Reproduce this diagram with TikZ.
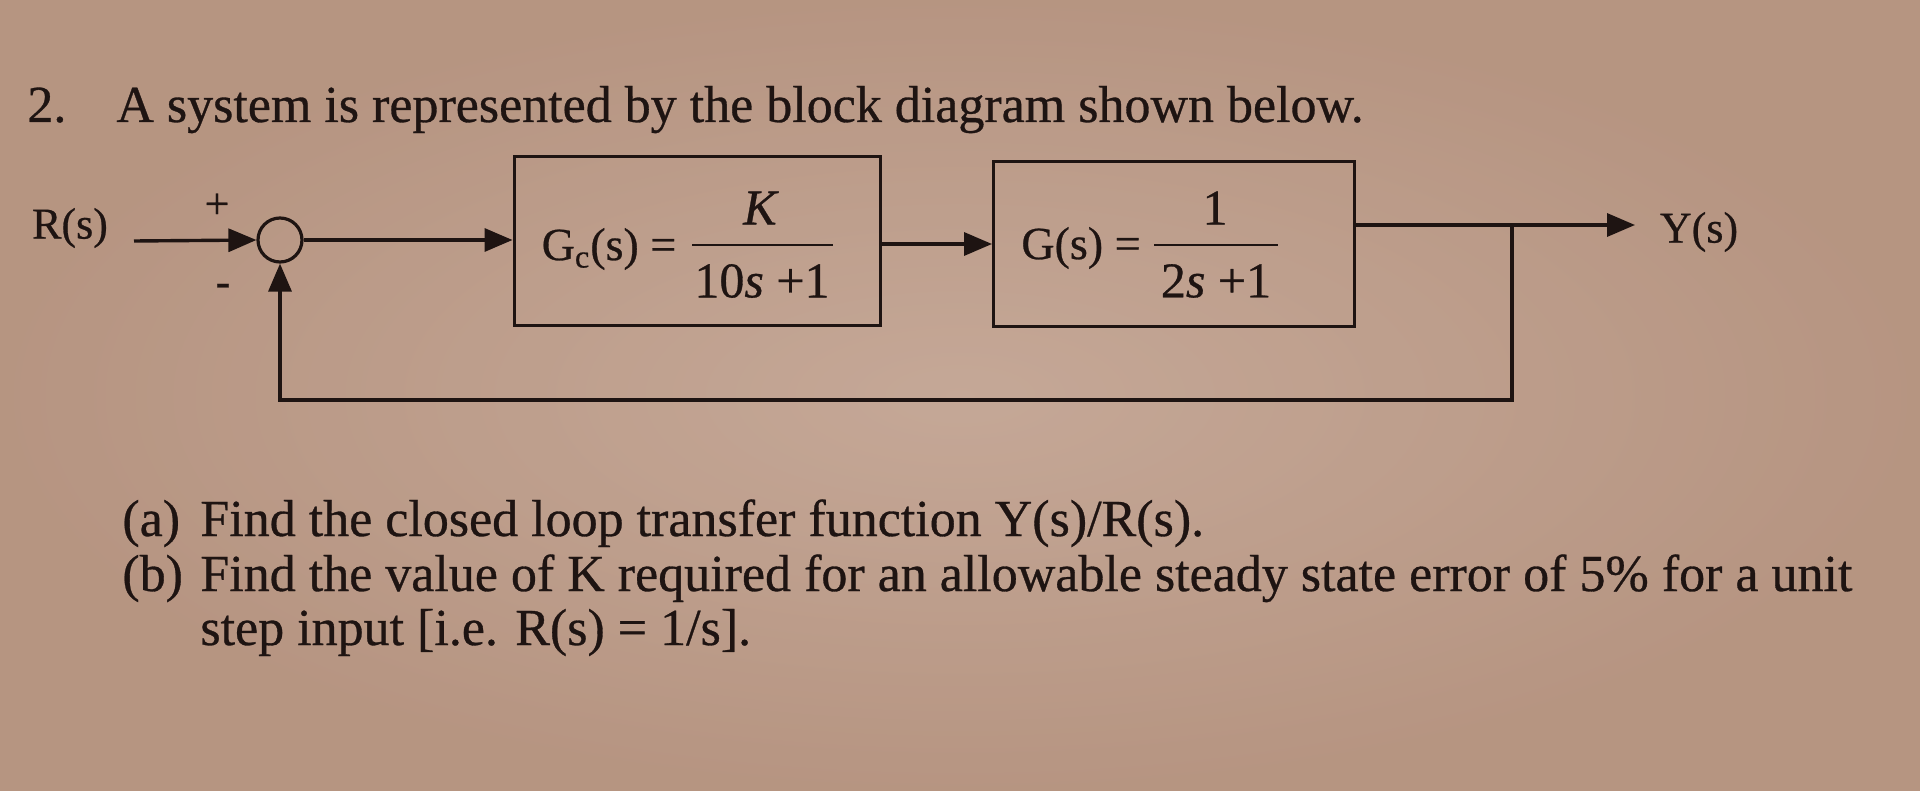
\documentclass[tikz,border=0pt]{standalone}
\usepackage{fontspec}
\setmainfont{Liberation Serif}[FakeBold=0.6]
\usetikzlibrary{arrows.meta}
\definecolor{bgpaper}{RGB}{192,161,143}
\definecolor{bglight}{RGB}{201,173,157}
\definecolor{bgdark}{RGB}{176,141,121}
\definecolor{ink}{RGB}{30,20,18}
\tikzset{
  txt/.style={font=\fontsize{26}{30}\selectfont, text=ink, inner sep=0pt},
  dtxt/.style={font=\fontsize{22}{26}\selectfont, text=ink, inner sep=0pt},
  ftxt/.style={font=\fontsize{23}{27}\selectfont, text=ink, inner sep=0pt},
  fnum/.style={font=\fontsize{25}{29}\selectfont, text=ink, inner sep=0pt},
  wire/.style={draw=ink, line width=1.7pt},
  arr/.style={-{Triangle[length=14pt,width=11.5pt]}},
  blk/.style={draw=ink, line width=1.5pt, minimum width=183pt, minimum height=84pt, inner sep=0pt},
  blkb/.style={draw=ink, line width=1.5pt, minimum width=180.5pt, minimum height=82pt, inner sep=0pt},
  sumc/.style={draw=ink, circle, line width=1.6pt, minimum size=22pt, inner sep=0pt},
  fbar/.style={draw=ink, line width=1.1pt}
}
\begin{document}
\begin{tikzpicture}[x=0.5pt,y=-0.5pt]
\useasboundingbox (0,0) rectangle (1920,791);
\fill[bgpaper] (0,0) rectangle (1920,791);
\shade[inner color=bglight, outer color=bgdark, opacity=0.6] (0,0) rectangle (1920,791);

% title
\node[txt, anchor=base west] (num) at (27,122) {2.};
\node[txt, anchor=base west] (title) at (116,122) {A system is represented by the block diagram shown below.};

% diagram
\node[dtxt] (R) at (70,228) {R(s)};
\coordinate (in) at (134,241);
\node[sumc] (sum) at (280,240) {};
\node[dtxt] (plus) at (217,206) {+};
\node[dtxt] (minus) at (223,290) {-};

\node[blk] (b1) at (697,241) {};
\node[blkb] (b2) at (1174,244) {};

\node[ftxt] (gcl) at (609,249) {G\textsubscript{c}(s) =};
\coordinate (bar1l) at (692,245);
\coordinate (bar1r) at (833,245);
\draw[fbar] (bar1l) -- (bar1r);
\node[fnum] (k) at (761,208) {\textit{K}};
\node[fnum] (d1) at (762,281) {10\textit{s} +1};

\node[ftxt] (gl) at (1081,248) {G(s) =};
\coordinate (bar2l) at (1154,245);
\coordinate (bar2r) at (1278,245);
\draw[fbar] (bar2l) -- (bar2r);
\node[fnum] (n2) at (1215,208) {1};
\node[fnum] (d2) at (1216,281) {2\textit{s} +1};

\coordinate (tap) at (1512,225);
\coordinate (out) at (1635,225);
\coordinate (fb) at (1512,400);
\node[dtxt] (Y) at (1699,232) {Y(s)};

\draw[wire, arr] (in) -- (sum.west);
\draw[wire, arr] (sum.east) -- (sum.east -| b1.west);
\draw[wire, arr] (b1.east |- b2.west) -- (b2.west);
\draw[wire, arr] (b2.east |- tap) -- (out);
\draw[wire, arr] (tap) -- (fb) -| (sum.south);

% questions
\node[txt, anchor=base west] (la) at (122,536) {(a)};
\node[txt, anchor=base west] (ta) at (200,536) {Find the closed loop transfer function Y(s)/R(s).};
\node[txt, anchor=base west] (lb) at (122,591) {(b)};
\node[txt, anchor=base west] (tb) at (200,591) {Find the value of K required for an allowable steady state error of 5\% for a unit};
\node[txt, anchor=base west] (tc) at (200,645) {step input [i.e. R(s) = 1/s].};
\end{tikzpicture}
\end{document}
